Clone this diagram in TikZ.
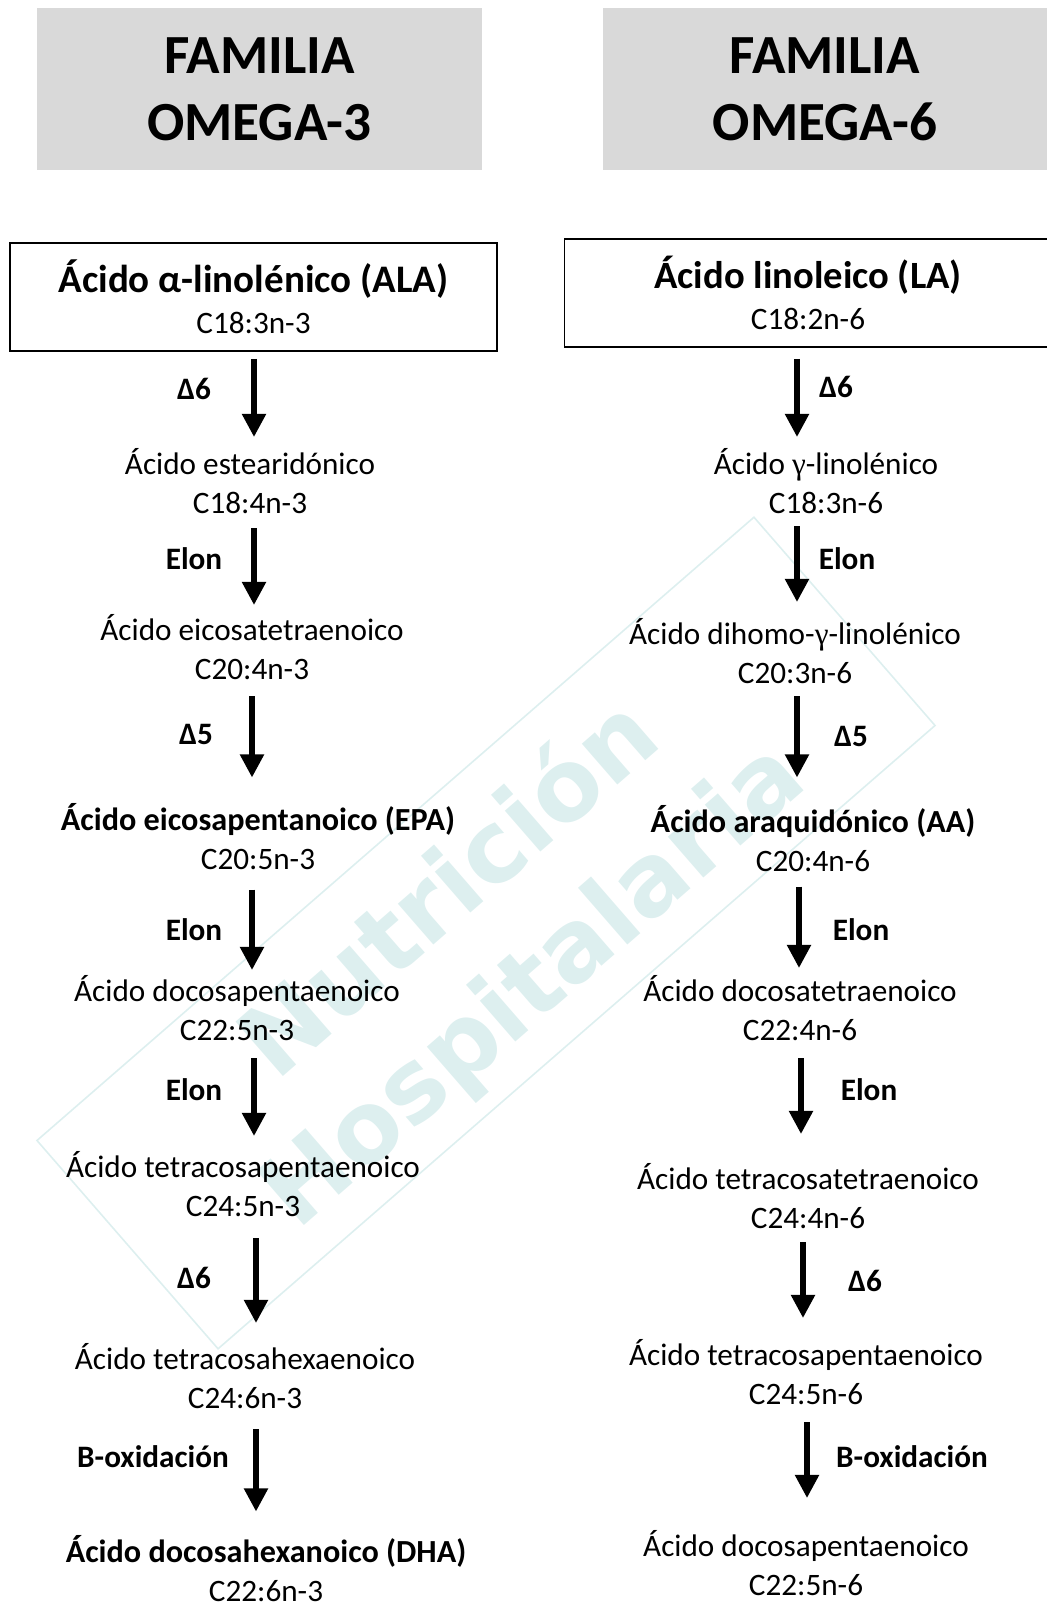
\documentclass[tikz,border=0pt]{standalone}
\usepackage{fontspec}
\setmainfont{Carlito}
\newfontfamily\greekserif{Liberation Serif}
\newfontfamily\markfont{DejaVu Sans}
\usepackage{xcolor}
\usepackage{tikz}
\usetikzlibrary{arrows.meta,positioning}

\definecolor{markteal}{HTML}{DDEFEF}
\definecolor{boxgray}{HTML}{D9D9D9}

\begin{document}
\begin{tikzpicture}[
    x=0.5pt, y=-0.5pt,
    familia/.style={fill=boxgray, minimum width=222.5pt, minimum height=81pt, inner sep=0, align=center, font=\fontsize{27.6}{33.5}\selectfont\bfseries},
    precursor/.style={draw, line width=0.8pt, minimum width=243.5pt, minimum height=54pt, inner sep=0, align=center, font=\fontsize{15.6}{19.5}\selectfont},
    acido/.style={inner sep=0, align=center, font=\fontsize{15.6}{19.5}\selectfont},
    enzima/.style={inner sep=0, font=\fontsize{15.6}{19.5}\selectfont\bfseries},
    flecha/.style={line width=2.6pt, -{Triangle[width=11.5pt, length=11.5pt]}},
    marca/.style={text=markteal, font=\fontsize{49.5}{52}\markfont\bfseries, rotate=41}
]
\clip (0,0) rectangle (1047,1604);

% === Watermark ===
\node[draw=markteal, line width=0.8pt, minimum width=475pt, minimum height=138pt, rotate=41] (sello) at (486,933) {};
\node[marca] (marca1) at (445,884) {Nutrición};
\node[marca] (marca2) at (536,988) {Hospitalaria};

% === Headers ===
\node[familia] (fam3) at (259.5,89) {FAMILIA\\OMEGA-3};
\node[familia] (fam6) at (825,89) {FAMILIA\\OMEGA-6};

% === Omega-3 column ===
\node[precursor] (ala) at (253.5,297) {{\fontsize{19.5}{22}\selectfont\bfseries Ácido α-linolénico (ALA)}\\[1pt]C18:3n-3};
\node[acido] (estear)      at (250,481.5)  {Ácido estearidónico\\C18:4n-3};
\node[acido] (eicotetra)   at (252,647.5)  {Ácido eicosatetraenoico\\C20:4n-3};
\node[acido] (epa)         at (258,836.5)  {{\fontsize{16.1}{19.5}\selectfont\bfseries Ácido eicosapentanoico (EPA)}\\C20:5n-3};
\node[acido] (docopenta3)  at (237,1008.5) {Ácido docosapentaenoico\\C22:5n-3};
\node[acido] (tetrapenta3) at (243,1184.5) {Ácido tetracosapentaenoico\\C24:5n-3};
\node[acido] (tetrahexa)   at (245,1376.5) {Ácido tetracosahexaenoico\\C24:6n-3};
\node[acido] (dha)         at (266,1568.5) {{\fontsize{16.1}{19.5}\selectfont\bfseries Ácido docosahexanoico (DHA)}\\C22:6n-3};

% === Omega-6 column ===
\node[precursor] (la) at (808,293) {{\fontsize{19.3}{22}\selectfont\bfseries Ácido linoleico (LA)}\\[1pt]C18:2n-6};
\node[acido] (gla)         at (826,481.5)  {Ácido {\greekserif γ}-linolénico\\C18:3n-6};
\node[acido] (dgla)        at (795,651.5)  {Ácido dihomo-{\greekserif γ}-linolénico\\C20:3n-6};
\node[acido] (aa)          at (813,839)    {{\fontsize{16.1}{19.5}\selectfont\bfseries Ácido araquidónico (AA)}\\C20:4n-6};
\node[acido] (docotetra)   at (800,1008.5) {Ácido docosatetraenoico\\C22:4n-6};
\node[acido] (tetratetra)  at (808,1196.5) {Ácido tetracosatetraenoico\\C24:4n-6};
\node[acido] (tetrapenta6) at (806,1372.5) {Ácido tetracosapentaenoico\\C24:5n-6};
\node[acido] (docopenta6)  at (806,1563.5) {Ácido docosapentaenoico\\C22:5n-6};

% Arrows (from / to / x / start gap / end gap)
\foreach \a/\b/\x/\s/\e in {
    ala/estear/254/3.5pt/5.75pt,
    estear/eicotetra/254/6.75pt/4.75pt,
    eicotetra/epa/252/7.75pt/12.75pt,
    epa/docopenta3/252/9.75pt/2.75pt,
    docopenta3/tetrapenta3/254/8.25pt/7.75pt,
    tetrapenta3/tetrahexa/256/10.25pt/10.25pt,
    tetrahexa/dha/256/9.75pt/11.75pt,
    la/gla/797/5.5pt/5.75pt,
    gla/dgla/797/5.75pt/8.25pt,
    dgla/aa/797/5.75pt/14pt,
    aa/docotetra/799/7pt/3.75pt,
    docotetra/tetratetra/801/8.25pt/14.75pt,
    tetratetra/tetrapenta6/803/6.25pt/10.75pt,
    tetrapenta6/docopenta6/807/8.25pt/16.25pt} {
    \draw[flecha, shorten <=\s, shorten >=\e] (\a.south -| \x,0) -- (\b.north -| \x,0);
}

% Enzyme labels
\foreach \x/\y/\t [count=\i] in {
    194/389/Δ6, 194/559/Elon, 196/734/Δ5, 194/930/Elon,
    194/1090/Elon, 194/1278/Δ6, 153/1457/B-oxidación,
    836/387/Δ6, 847/559/Elon, 851/736/Δ5, 861/930/Elon,
    869/1090/Elon, 865/1281/Δ6, 912/1457/B-oxidación} {
    \node[enzima] (enz\i) at (\x,\y) {\t};
}

\end{tikzpicture}
\end{document}
